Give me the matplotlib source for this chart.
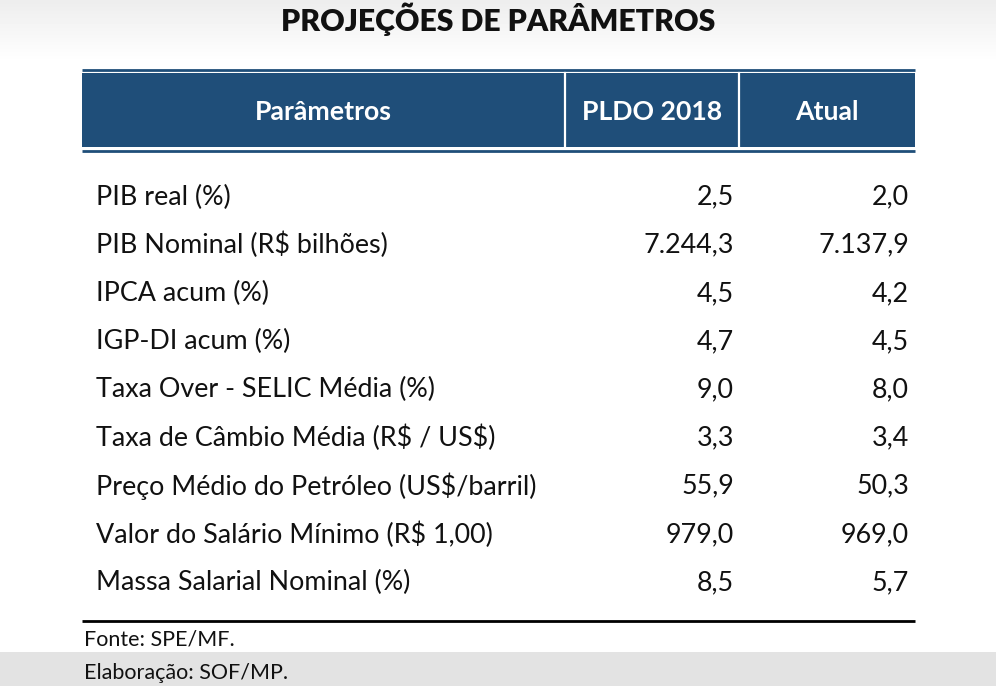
import numpy as np
import matplotlib.pyplot as plt
from matplotlib.patches import Rectangle

plt.rcParams['font.family'] = ['Lato', 'DejaVu Sans']

title = "PROJEÇÕES DE PARÂMETROS"
headers = ["Parâmetros", "PLDO 2018", "Atual"]
params = ["PIB real (%)", "PIB Nominal (R$ bilhões)", "IPCA acum (%)", "IGP-DI acum (%)",
          "Taxa Over - SELIC Média (%)", "Taxa de Câmbio Média (R$ / US$)",
          "Preço Médio do Petróleo (US$/barril)", "Valor do Salário Mínimo (R$ 1,00)",
          "Massa Salarial Nominal (%)"]
pldo_2018 = ["2,5", "7.244,3", "4,5", "4,7", "9,0", "3,3", "55,9", "979,0", "8,5"]
atual = ["2,0", "7.137,9", "4,2", "4,5", "8,0", "3,4", "50,3", "969,0", "5,7"]
notes = ["Fonte: SPE/MF.", "Elaboração: SOF/MP."]

W, H = 996, 686
fig = plt.figure(figsize=(W / 100, H / 100), dpi=100)
ax = fig.add_axes([0, 0, 1, 1])
ax.set_xlim(0, W)
ax.set_ylim(H, 0)
ax.axis('off')

# background: white middle, soft grey at top and bottom
g = np.ones((H, 1))
ys = np.arange(H)
g[:, 0] = 1 - 0.07 * np.clip((62 - ys) / 62, 0, 1) - 0.11 * (ys >= 652)
ax.imshow(np.repeat(g, 2, axis=1), cmap='gray', vmin=0, vmax=1, extent=[0, W, H, 0], aspect='auto', zorder=0)

blue = '#1f4e79'
ink = '#111111'
x0, x1 = 82, 915
col1, col2 = 565, 739

ax.text(W / 2, 19, title, ha='center', va='center', fontsize=21.7, fontweight='heavy', color=ink)

# header band with double lines
ax.plot([x0, x1], [69.5, 69.5], color=blue, lw=2, solid_capstyle='butt')
ax.add_patch(Rectangle((x0, 73), x1 - x0, 74, color=blue, lw=0))
ax.plot([x0, x1], [150.5, 150.5], color=blue, lw=2, solid_capstyle='butt')
for cx in (col1, col2):
    ax.plot([cx, cx], [73, 147], color='white', lw=1.6)
centers = [(x0 + col1) / 2, (col1 + col2) / 2, (col2 + x1) / 2]
for cx, h in zip(centers, headers):
    ax.text(cx, 112, h, ha='center', va='center', fontsize=19.2, fontweight='bold', color='white')

row_y = 197
step = 48.2
for i in range(len(params)):
    y = row_y + i * step
    ax.text(96, y, params[i], ha='left', va='center', fontsize=19.4, color=ink, parse_math=False)
    ax.text(734, y, pldo_2018[i], ha='right', va='center', fontsize=19.4, color=ink)
    ax.text(909, y, atual[i], ha='right', va='center', fontsize=19.4, color=ink)

ax.plot([x0, x1], [621, 621], color='black', lw=2, solid_capstyle='butt')
ax.text(84, 639, notes[0], ha='left', va='center', fontsize=15.5, color=ink)
ax.text(84, 673, notes[1], ha='left', va='center', fontsize=15.5, color=ink)

fig.savefig('out.png', dpi=100)
